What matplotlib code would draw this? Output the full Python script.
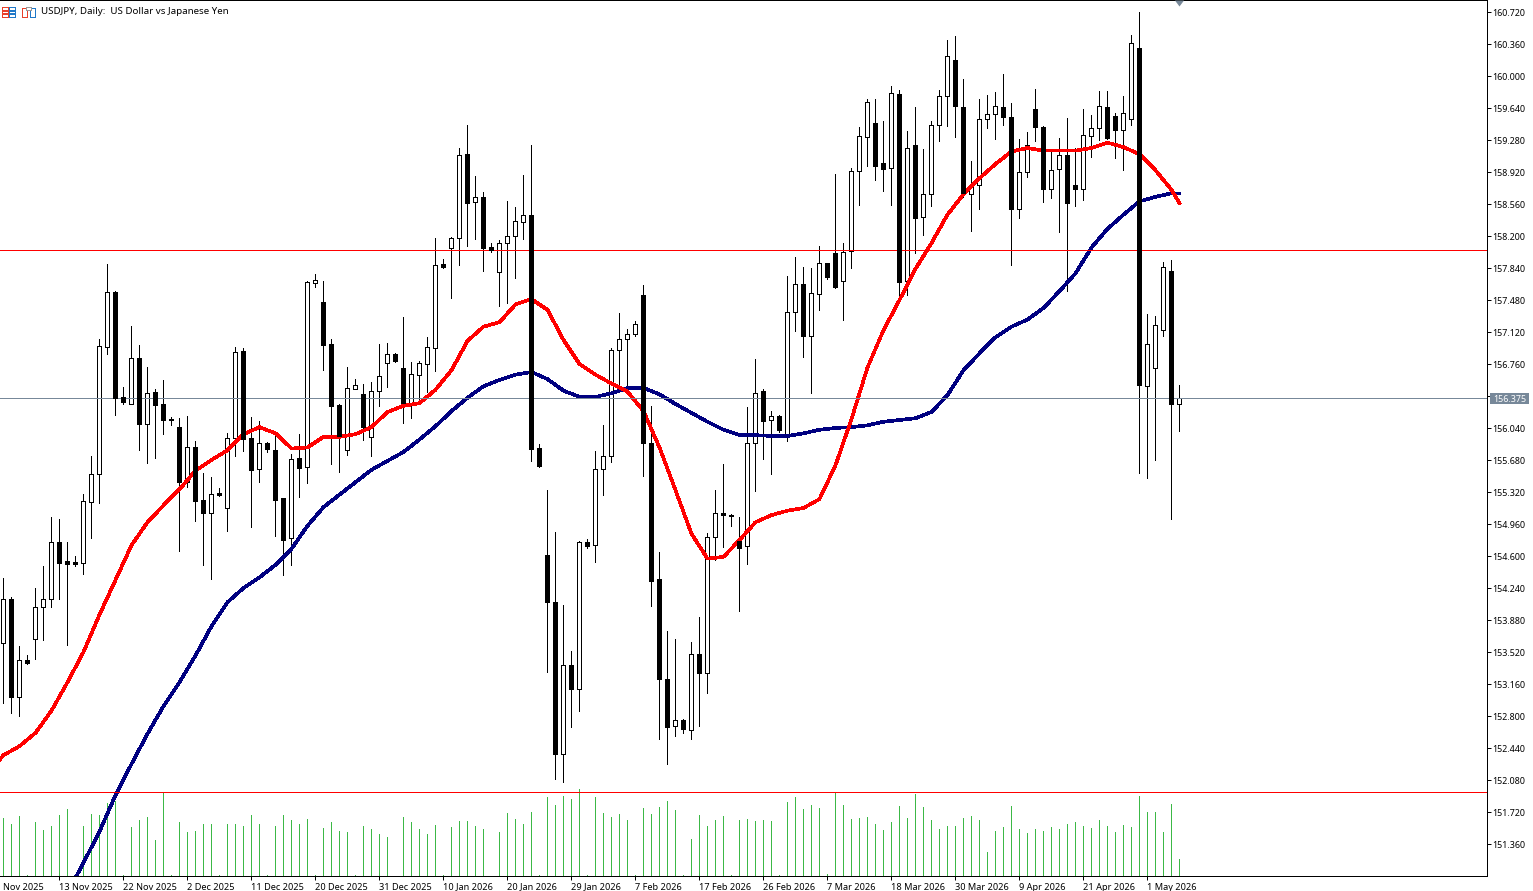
import matplotlib
matplotlib.use("Agg")
import matplotlib.pyplot as plt
from matplotlib.patches import Rectangle
from matplotlib.transforms import ScaledTranslation
import numpy as np

plt.rcParams['font.family'] = ['Noto Sans', 'DejaVu Sans']

# daily USDJPY candles
highs = [154.352, 154.139, 153.587, 153.486, 154.240, 154.487, 155.039, 155.016, 154.757, 154.600,
         155.297, 155.725, 157.041, 157.885, 157.581, 156.501, 157.187, 156.974, 156.726, 156.479,
         156.580, 156.164, 156.152, 156.175, 155.894, 155.534, 155.489, 155.365, 155.984, 156.951,
         156.940, 156.164, 156.119, 155.882, 155.961, 155.252, 155.747, 155.972, 157.694, 157.772,
         157.694, 157.041, 156.310, 156.726, 156.591, 156.535, 156.557, 156.985, 156.996, 156.884,
         157.289, 156.782, 156.794, 157.064, 158.177, 157.941, 158.189, 159.190, 159.449, 158.875,
         158.695, 158.121, 158.155, 158.594, 158.526, 158.886, 159.224, 155.860, 155.342, 154.870,
         154.049, 153.531, 154.769, 154.791, 155.781, 156.074, 156.940, 157.334, 157.154, 157.244,
         157.649, 156.287, 154.645, 153.756, 153.666, 152.766, 153.632, 153.914, 154.859, 155.342,
         155.635, 155.072, 155.039, 156.276, 156.816, 156.479, 156.231, 156.186, 157.750, 157.964,
         157.851, 157.840, 158.087, 157.896, 158.897, 158.121, 158.965, 159.426, 159.741, 159.741,
         159.494, 159.887, 159.842, 159.381, 159.651, 159.179, 159.494, 159.842, 160.405, 160.450,
         159.966, 159.049, 159.741, 159.786, 159.820, 160.022, 159.696, 159.291, 159.370, 159.854,
         159.437, 159.179, 159.302, 159.527, 159.190, 159.629, 159.561, 159.831, 159.831, 159.584,
         159.775, 160.461, 160.720, 157.322, 157.300, 157.907, 157.930, 156.524]
lows = [152.946, 152.834, 152.800, 153.385, 153.441, 153.655, 154.026, 154.116, 153.599, 154.487,
        154.397, 154.802, 155.196, 156.872, 156.186, 156.310, 156.310, 155.792, 155.646, 155.702,
        155.972, 156.074, 154.656, 155.376, 154.994, 154.499, 154.341, 155.275, 154.881, 155.725,
        155.781, 154.926, 155.432, 155.770, 154.825, 154.386, 154.499, 155.264, 155.421, 157.626,
        156.692, 155.635, 155.545, 155.736, 156.479, 155.905, 155.725, 156.287, 156.501, 156.782,
        156.096, 156.152, 156.321, 156.445, 156.681, 157.840, 157.502, 157.874, 158.087, 158.166,
        157.806, 158.020, 157.412, 157.446, 157.727, 158.166, 155.669, 155.601, 153.295, 152.091,
        152.057, 152.676, 152.856, 154.690, 154.532, 155.286, 155.657, 156.501, 156.490, 157.075,
        155.500, 154.037, 152.541, 152.260, 152.575, 152.609, 152.541, 152.687, 153.059, 154.555,
        154.701, 154.937, 153.981, 154.510, 155.331, 155.691, 155.522, 155.995, 155.894, 157.131,
        156.839, 156.434, 157.367, 157.716, 157.615, 157.255, 157.840, 158.549, 158.987, 158.830,
        158.706, 158.549, 157.514, 157.536, 158.009, 158.211, 158.537, 159.269, 159.437, 159.314,
        158.639, 158.256, 158.504, 159.415, 159.291, 159.449, 157.874, 158.402, 158.864, 159.269,
        158.582, 158.627, 158.245, 157.581, 158.537, 158.605, 159.089, 159.280, 159.291, 159.077,
        158.942, 159.449, 155.534, 155.477, 155.680, 157.075, 155.016, 156.006]
opens = [153.621, 154.116, 153.014, 153.430, 153.666, 154.026, 154.116, 154.757, 154.544, 154.532,
         154.521, 155.207, 155.522, 156.951, 157.570, 156.389, 156.310, 156.827, 156.085, 156.445,
         156.310, 156.141, 156.051, 155.432, 155.826, 155.230, 155.084, 155.309, 155.140, 155.927,
         156.906, 155.927, 155.579, 155.871, 155.792, 155.252, 154.802, 155.702, 155.601, 157.671,
         157.457, 156.985, 156.299, 155.792, 156.479, 156.422, 155.939, 156.456, 156.771, 156.872,
         156.715, 156.321, 156.636, 156.760, 156.940, 157.885, 158.065, 158.177, 159.122, 158.582,
         158.639, 158.076, 157.795, 158.121, 158.200, 158.357, 158.436, 155.815, 154.611, 154.082,
         152.372, 153.374, 153.104, 154.757, 154.724, 155.579, 155.725, 156.917, 157.041, 157.097,
         157.536, 155.871, 154.341, 153.216, 152.687, 152.755, 152.642, 153.497, 153.284, 154.814,
         155.084, 155.061, 154.769, 154.712, 155.871, 156.456, 156.130, 156.175, 155.939, 157.345,
         157.660, 157.075, 157.547, 157.896, 158.009, 157.694, 158.031, 158.931, 159.314, 159.471,
         159.021, 158.965, 159.797, 157.694, 159.224, 158.414, 158.672, 159.449, 159.775, 160.180,
         159.651, 158.672, 158.774, 159.516, 159.572, 159.651, 159.539, 158.504, 158.920, 159.629,
         159.426, 158.729, 158.954, 159.111, 158.774, 158.729, 159.325, 159.415, 159.651, 159.550,
         159.392, 159.516, 160.315, 156.512, 156.715, 157.142, 157.806, 156.310]
closes = [154.116, 153.014, 153.430, 153.396, 154.026, 154.116, 154.757, 154.521, 154.510, 154.510,
          155.219, 155.522, 156.962, 157.570, 156.377, 156.332, 156.827, 156.085, 156.434, 156.299,
          156.130, 156.130, 155.432, 155.826, 155.219, 155.084, 155.297, 155.286, 155.927, 156.895,
          155.916, 155.567, 155.871, 155.804, 155.230, 154.780, 155.691, 155.590, 157.682, 157.705,
          156.974, 156.287, 155.950, 156.490, 156.524, 156.051, 156.456, 156.625, 156.872, 156.794,
          156.321, 156.647, 156.771, 156.951, 157.874, 157.851, 158.177, 159.111, 158.571, 158.639,
          158.065, 158.042, 158.121, 158.200, 158.369, 158.436, 155.804, 155.612, 154.082, 152.372,
          153.374, 153.104, 154.757, 154.712, 155.579, 155.725, 156.917, 157.041, 157.097, 157.210,
          155.871, 154.319, 153.216, 152.676, 152.755, 152.654, 153.497, 153.284, 154.814, 155.084,
          155.061, 155.050, 154.690, 155.871, 156.434, 156.119, 156.175, 156.017, 157.345, 157.660,
          157.075, 157.559, 157.896, 157.739, 157.626, 158.020, 158.931, 159.325, 159.707, 158.987,
          158.954, 159.809, 157.682, 159.190, 158.402, 158.672, 159.449, 159.775, 160.225, 159.662,
          158.684, 158.774, 159.516, 159.572, 159.662, 159.539, 158.504, 158.920, 159.224, 159.426,
          158.729, 158.942, 159.111, 158.571, 158.729, 159.336, 159.415, 159.662, 159.302, 159.392,
          159.584, 160.371, 156.524, 156.985, 157.199, 157.851, 156.310, 156.375]
# tick volume, only relative sizes can be read (no scale on the chart)
volumes = [58, 52, 60, 1, 54, 46, 50, 61, 67, 0, 50, 62, 61, 73, 75, 1, 49, 56, 59, 36, 84, 1, 54, 44, 45,
           52, 52, 1, 52, 52, 50, 61, 52, 1, 50, 61, 56, 52, 57, 1, 48, 54, 45, 44, 1, 50, 47, 42, 39, 0,
           59, 54, 47, 42, 51, 1, 49, 55, 55, 50, 47, 0, 44, 63, 57, 52, 64, 1, 79, 71, 80, 77, 87, 1, 79,
           63, 59, 62, 56, 1, 68, 62, 69, 75, 66, 1, 37, 61, 50, 56, 60, 1, 56, 57, 55, 56, 55, 1, 74, 79,
           67, 71, 68, 2, 84, 71, 57, 58, 59, 52, 46, 54, 70, 58, 82, 69, 56, 47, 50, 50, 58, 60, 56, 24, 45,
           49, 70, 47, 43, 47, 45, 49, 47, 52, 54, 50, 48, 56, 50, 44, 51, 49, 80, 64, 64, 44, 72, 17]

# moving averages, read every second bar plus the last one (first point is the bar off the left edge)
ma_red_bars = [-1] + list(range(0, 147, 2)) + [147]
ma_red = [152.25, 152.36, 152.46, 152.61, 152.86, 153.18, 153.52, 153.94, 154.33, 154.72, 154.98, 155.17, 155.35,
          155.56, 155.68, 155.79, 155.97, 156.05, 155.98, 155.81, 155.82, 155.94, 155.94, 155.97, 156.05,
          156.22, 156.29, 156.32, 156.47, 156.69, 157.02, 157.18, 157.23, 157.43, 157.49, 157.37, 157.03,
          156.76, 156.64, 156.54, 156.45, 156.23, 155.82, 155.34, 154.85, 154.57, 154.59, 154.78, 154.98,
          155.06, 155.11, 155.14, 155.24, 155.62, 156.14, 156.72, 157.14, 157.48, 157.83, 158.12, 158.44,
          158.67, 158.85, 159.01, 159.15, 159.19, 159.16, 159.16, 159.16, 159.19, 159.25, 159.20, 159.12,
          158.94, 158.72, 158.57]
ma_blue_bars = list(range(8, 147, 2)) + [147]
ma_blue = [150.81, 151.15, 151.50, 151.91, 152.26, 152.60, 152.91, 153.18, 153.48, 153.81, 154.08, 154.24,
           154.36, 154.50, 154.68, 154.94, 155.15, 155.29, 155.43, 155.57, 155.67, 155.77, 155.91, 156.06,
           156.23, 156.38, 156.51, 156.58, 156.64, 156.67, 156.59, 156.46, 156.39, 156.39, 156.43, 156.49,
           156.49, 156.42, 156.31, 156.21, 156.11, 156.02, 155.96, 155.96, 155.95, 155.95, 155.98, 156.02,
           156.04, 156.05, 156.07, 156.11, 156.13, 156.15, 156.22, 156.41, 156.69, 156.88, 157.06, 157.18,
           157.26, 157.39, 157.58, 157.78, 158.07, 158.28, 158.44, 158.59, 158.64, 158.68, 158.68]

price_ticks = [160.72, 160.36, 160.00, 159.64, 159.28, 158.92, 158.56, 158.20, 157.84, 157.48, 157.12, 156.76,
               156.40, 156.04, 155.68, 155.32, 154.96, 154.60, 154.24, 153.88, 153.52, 153.16, 152.80, 152.44,
               152.08, 151.72, 151.36]
date_ticks = [7, 15, 23, 31, 39, 47, 55, 63, 71, 79, 87, 95, 103, 111, 119, 127, 135, 143]
date_labels = ["13 Nov 2025", "22 Nov 2025", "2 Dec 2025", "11 Dec 2025", "20 Dec 2025", "31 Dec 2025",
               "10 Jan 2026", "20 Jan 2026", "29 Jan 2026", "7 Feb 2026", "17 Feb 2026", "26 Feb 2026",
               "7 Mar 2026", "18 Mar 2026", "30 Mar 2026", "9 Apr 2026", "21 Apr 2026", "1 May 2026"]
level_high = 158.037
level_low = 151.942
bid = 156.375

W, H = 1533, 891
PX = 0.72  # one pixel in points at dpi 100
slate = '#778899'

fig = plt.figure(figsize=(W / 100, H / 100), dpi=100, facecolor='white')
rect = [0, 15 / H, 1487 / W, 876 / H]

# volume sits in its own axes, one unit is one pixel
ax_vol = fig.add_axes(rect, zorder=1)
ax = fig.add_axes(rect, zorder=2)
ax.patch.set_visible(False)

xlim = (-0.4375, 185.44)
ax_vol.set_xlim(xlim)
ax_vol.set_ylim(0, 876)
ax_vol.axis('off')
ax_vol.vlines(np.arange(len(volumes)), 0, volumes, colors='#3cb846', linewidth=PX, antialiased=False)

bars = np.arange(len(opens))
opens = np.array(opens)
closes = np.array(closes)
up = closes >= opens

ax.set_xlim(xlim)
ax.set_ylim(151.0, 160.855)

ax.vlines(bars, lows, highs, colors='black', linewidth=PX, antialiased=False, zorder=2)
ax.bar(bars[up], closes[up] - opens[up], bottom=opens[up], width=0.5, facecolor='white', edgecolor='black',
       linewidth=PX, antialiased=False, zorder=3)
# black bodies cover the lines, white ones do not
ax.bar(bars[~up], opens[~up] - closes[~up], bottom=closes[~up], width=0.5, facecolor='black', edgecolor='black',
       linewidth=PX, antialiased=False, zorder=7)

ax.plot(ma_blue_bars, ma_blue, color='#000080', linewidth=2.6 * PX, antialiased=False, zorder=4)
ax.plot(ma_red_bars, ma_red, color='#ff0000', linewidth=2.6 * PX, antialiased=False, zorder=5)

ax.axhline(level_high, color='#ff0000', linewidth=PX, antialiased=False, zorder=5)
ax.axhline(level_low, color='#ff0000', linewidth=PX, antialiased=False, zorder=5)
ax.axhline(bid, color=slate, linewidth=PX, antialiased=False, zorder=5)

# little marker on the top edge above the last bar
ax.plot([147], [160.855], marker=[(-1, 0), (1, 0), (0, -1.33)], markersize=8.64, color=slate,
        markeredgewidth=0, clip_on=False, zorder=8)

# axes dressing
ax.spines['left'].set_visible(False)
for side in ['top', 'right', 'bottom']:
    ax.spines[side].set_linewidth(PX)

ax.yaxis.tick_right()
ax.set_yticks(price_ticks)
ax.set_yticklabels(['' if p == 156.40 else f'{p:.3f}' for p in price_ticks])
ax.tick_params(axis='y', length=4 * PX, width=PX, labelsize=6.45, pad=1)
down_one = ScaledTranslation(0, -1 / 100, fig.dpi_scale_trans)
for lab in ax.get_yticklabels():
    lab.set_transform(lab.get_transform() + down_one)

ax.set_xticks(date_ticks)
ax.set_xticklabels([])
ax.tick_params(axis='x', length=4 * PX, width=PX)

for pos, label in zip(date_ticks, date_labels):
    ax.annotate(label, (pos, 0), xycoords=ax.get_xaxis_transform(), xytext=(0, -11 * PX), textcoords='offset points',
                ha='left', va='center', fontsize=6.6, annotation_clip=False)
# the first date runs off the left edge in the original, only this part shows
fig.text(3 / W, 1 - 887 / H, 'Nov 2025', fontsize=6.6, ha='left', va='center')

# current price tag
fig.add_artist(Rectangle((1490 / W, 1 - 404 / H), 39 / W, 11 / H, transform=fig.transFigure, facecolor=slate,
                         edgecolor='none', zorder=10))
fig.text(1509.5 / W, 1 - 399 / H, f'{bid:.3f}', color='white', fontsize=6.45, ha='center', va='center', zorder=11)

# header icons and title
def icon_box(x, y, w, h, color, fill='none'):
    fig.add_artist(Rectangle((x / W, 1 - (y + h) / H), w / W, h / H, transform=fig.transFigure, facecolor=fill,
                             edgecolor=color, linewidth=PX, antialiased=False, zorder=12))

icon_box(1.5, 6.5, 6, 10, '#e8402a')
icon_box(8.5, 6.5, 6, 10, '#1f78c8')
for row in [9.5, 12.5]:
    icon_box(1.5, row, 6, 1, '#e8402a', '#e8402a')
    icon_box(8.5, row, 6, 1, '#1f78c8', '#1f78c8')
icon_box(21.5, 7.5, 5, 9, '#e8402a')
icon_box(29.5, 7.5, 5, 9, '#1f78c8')
icon_box(25.5, 6.5, 5, 3, '#999999', 'white')

fig.text(41 / W, 1 - 12 / H, 'USDJPY, Daily:  US Dollar vs Japanese Yen', fontsize=7.0, ha='left', va='center',
         zorder=12)

fig.savefig('out.png', dpi=100)
